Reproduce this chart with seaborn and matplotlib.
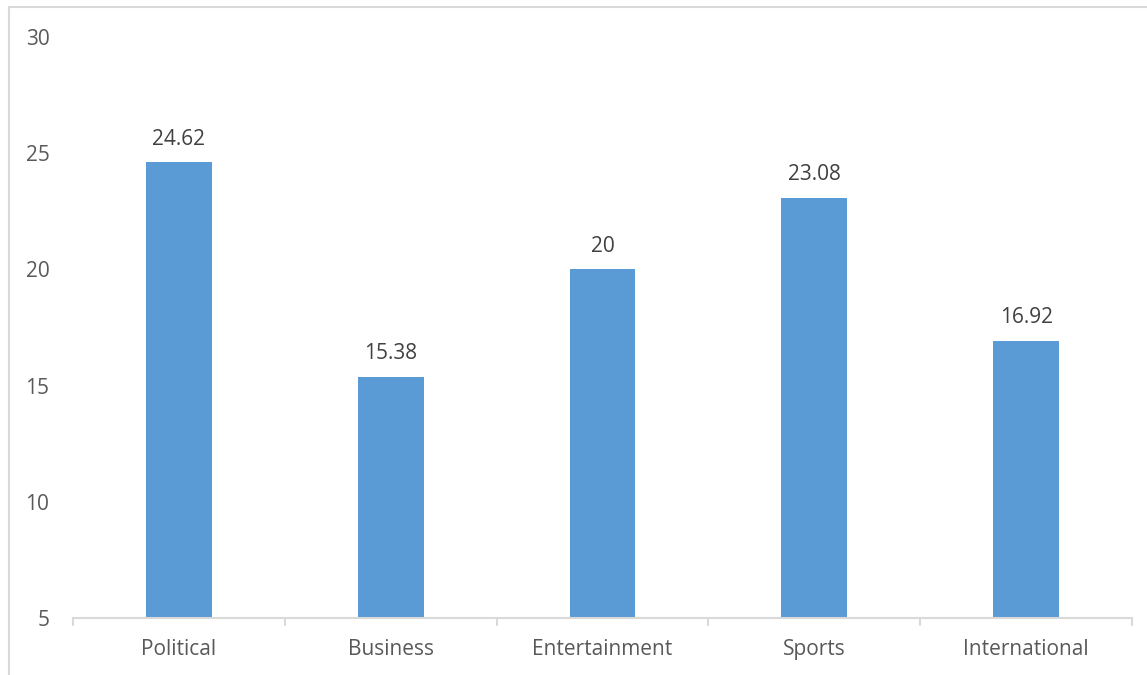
import matplotlib
matplotlib.use("Agg")
import matplotlib.pyplot as plt
from matplotlib.lines import Line2D
import seaborn as sns
import pandas as pd

categories = ["Political", "Business", "Entertainment", "Sports", "International"]
values = [24.62, 15.38, 20, 23.08, 16.92]
value_labels = ["24.62", "15.38", "20", "23.08", "16.92"]
y_ticks = [5, 10, 15, 20, 25, 30]

sns.set_theme(style="white")
plt.rcParams["font.family"] = ["Open Sans", "DejaVu Sans"]

W, H, DPI = 1147, 675, 100
FS = 15
fig = plt.figure(figsize=(W / DPI, H / DPI), dpi=DPI)
ax = fig.add_axes([73 / W, 1 - 618 / H, (1132 - 73) / W, (618 - 37) / H])

df = pd.DataFrame({"category": categories, "value": values})
sns.barplot(data=df, x="category", y="value", color="#5B9BD5", saturation=1,
            width=0.31, ax=ax)

ax.set_ylim(5, 30)
ax.set_xlim(-0.5, len(categories) - 0.5)
ax.set_yticks(y_ticks)
ax.set_xlabel("")
ax.set_ylabel("")

# bars start from the axis floor
for patch, v in zip(ax.patches, values):
    patch.set_y(5)
    patch.set_height(v - 5)
    patch.set_linewidth(0)

for i, (v, lab) in enumerate(zip(values, value_labels)):
    ax.annotate(lab, (i, v), xytext=(0, 9), textcoords="offset points",
                ha="center", va="bottom", fontsize=FS, color="#404040")

for s in ["top", "right", "left"]:
    ax.spines[s].set_visible(False)
ax.spines["bottom"].set_color("#D9D9D9")
ax.spines["bottom"].set_linewidth(1.5)

ax.tick_params(axis="y", length=0, pad=17, labelsize=FS, labelcolor="#595959")
ax.tick_params(axis="x", length=0, pad=15, labelsize=FS, labelcolor="#595959")

# separators between categories on the x axis
for b in [i - 0.5 for i in range(len(categories) + 1)]:
    ax.add_line(Line2D([b, b], [0, -0.012], transform=ax.get_xaxis_transform(),
                       color="#D9D9D9", lw=1.5, clip_on=False))

# chart area border
fig.add_artist(Line2D([9 / W, 1], [1 - 7 / H, 1 - 7 / H], color="#D9D9D9", lw=1.5))
fig.add_artist(Line2D([9 / W, 9 / W], [0, 1 - 7 / H], color="#D9D9D9", lw=1.5))

fig.savefig("out.png", dpi=DPI, facecolor="white")
